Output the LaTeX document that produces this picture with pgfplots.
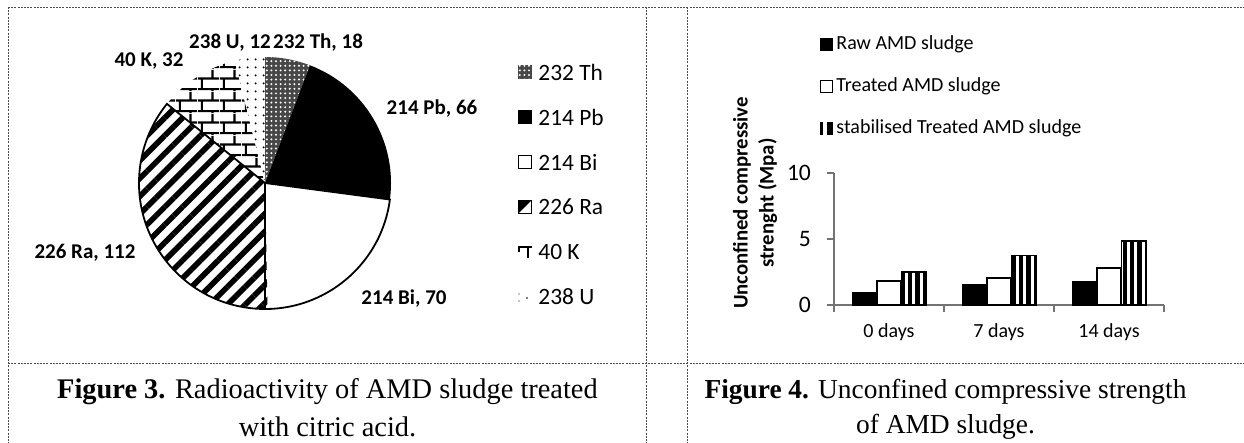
\documentclass[border=0pt]{standalone}
\usepackage{pgfplots}
\pgfplotsset{compat=1.18}
\usepackage{fontspec}
\setmainfont{Carlito}
\newfontfamily\timesf{Liberation Serif}
\usetikzlibrary{patterns.meta}

\pgfdeclarepattern{
  name=mybricks, type=uncolored,
  bottom left={\pgfpoint{0pt}{0pt}}, top right={\pgfpoint{11pt}{11pt}},
  tile size={\pgfpoint{11pt}{11pt}},
  code={
    \pgfsetlinewidth{1.1pt}
    \pgfpathmoveto{\pgfpoint{0pt}{1pt}}\pgfpathlineto{\pgfpoint{11pt}{1pt}}
    \pgfpathmoveto{\pgfpoint{0pt}{6.5pt}}\pgfpathlineto{\pgfpoint{11pt}{6.5pt}}
    \pgfpathmoveto{\pgfpoint{2pt}{1pt}}\pgfpathlineto{\pgfpoint{2pt}{6.5pt}}
    \pgfpathmoveto{\pgfpoint{7.5pt}{6.5pt}}\pgfpathlineto{\pgfpoint{7.5pt}{11pt}}
    \pgfpathmoveto{\pgfpoint{7.5pt}{0pt}}\pgfpathlineto{\pgfpoint{7.5pt}{1pt}}
    \pgfusepath{stroke}
  }
}

\tikzset{
  thA/.style={fill=black!72},
  thB/.style={pattern={Dots[distance=2.3pt, radius=0.55pt]}, pattern color=white},
  pbS/.style={fill=black},
  raS/.style={pattern={Lines[angle=45, distance=6.3pt, line width=2.8pt]}, pattern color=black},
  kS/.style={pattern=mybricks, pattern color=black},
  uS/.style={pattern={Dots[distance=4pt, radius=0.6pt]}, pattern color=black},
  stripeS/.style={pattern={Lines[angle=90, distance=3.7pt, line width=2.2pt]}, pattern color=black},
  bord/.style={draw=black!70, line width=0.45pt, dash pattern=on 1pt off 0.6pt},
}

% slice: cumulative value before, value, style ; total = 310
\newcommand\pieslice[3]{%
  \fill[#3] (axis cs:0,0) -- (axis cs:{cos(90-#1/310*360)},{sin(90-#1/310*360)})
    arc[start angle={90-#1/310*360}, delta angle={-#2/310*360}, radius=63pt] -- cycle;}

\begin{document}
\begin{tikzpicture}
\useasboundingbox (0,0) rectangle (622pt,221.5pt);

% ---------- Pie chart (Figure 3) ----------
\begin{axis}[hide axis, x=63pt, y=63pt, xmin=-1.1, xmax=1.1, ymin=-1.1, ymax=1.1,
  anchor=origin, at={(132.5pt,130pt)}, clip=false]
  \pieslice{0}{18}{thA}
  \pieslice{0}{18}{thB}
  \pieslice{18}{66}{pbS}
  \pieslice{84}{70}{fill=white}
  \pieslice{154}{112}{fill=white}
  \pieslice{154}{112}{raS}
  \pieslice{266}{32}{fill=white}
  \pieslice{266}{32}{kS}
  \pieslice{298}{12}{fill=white}
  \pieslice{298}{12}{uS}
  % outlines
  \draw[black, line width=0.9pt] (axis cs:0,0) -- (axis cs:{cos(90-84/310*360)},{sin(90-84/310*360)})
     arc[start angle={90-84/310*360}, delta angle={-182/310*360}, radius=63pt] -- cycle;
  \draw[black, line width=0.7pt] (axis cs:0,0) -- (axis cs:0,-1);
\end{axis}

% ---------- Bar chart (Figure 4) ----------
\begin{axis}[anchor=south west, at={(417pt,69pt)}, x=55pt, y=6.6pt,
  xmin=0.5, xmax=3.5, ymin=0, ymax=10,
  axis lines*=left, axis line style={draw=black!55, line width=0.6pt},
  ybar=0pt, bar width=12.3pt,
  ytick={0,5,10}, tick align=outside, major tick length=3.5pt,
  tick style={draw=black!55, line width=0.6pt},
  /pgf/number format/assume math mode=true,
  yticklabel style={font=\fontsize{11.8}{13}\selectfont, xshift=-4.5pt},
  xtick={0.5,1.5,2.5,3.5}, xticklabels={}, 
  extra x ticks={1,2,3}, extra x tick labels={0 days,7 days,14 days},
  extra x tick style={major tick length=0pt, xticklabel style={font=\fontsize{10}{12}\selectfont, yshift=-6pt}},
  clip=false]
  \addplot[fill=black, draw=black, line width=0.6pt] coordinates {(1,0.92) (2,1.55) (3,1.8)};
  \addplot[fill=white, draw=black, line width=0.9pt] coordinates {(1,1.8) (2,2.05) (3,2.8)};
  \addplot[stripeS, draw=black, line width=0.6pt] coordinates {(1,2.5) (2,3.75) (3,4.85)};
\end{axis}

% ---------- Overlay in pixel coordinates ----------
\begin{scope}[x=0.5pt, y=-0.5pt, yshift=221.5pt]
  % table borders
  \draw[bord] (8,7) -- (1244,7);
  \draw[bord] (8,7) -- (8,443);
  \draw[bord] (646,7) -- (646,443);
  \draw[bord] (687,7) -- (687,443);
  \draw[bord] (8,363) -- (1244,363);

  % pie labels
  \begin{scope}[every node/.style={font=\bfseries\fontsize{10.5}{12}\selectfont, inner sep=0pt}]
    \node at (230,43) {238 U, 12};
    \node at (318,43) {232 Th, 18};
    \node at (149,61) {40 K, 32};
    \node at (432,109) {214 Pb, 66};
    \node at (404,299) {214 Bi, 70};
    \node at (85,253) {226 Ra, 112};
  \end{scope}

  % pie legend
  \begin{scope}[every node/.style={font=\fontsize{11.7}{13}\selectfont, inner sep=0pt, anchor=west}]
    \fill[thA] (518,65) rectangle (532,79);
    \fill[thB] (518,65) rectangle (532,79);
    \node at (538,72) {232 Th};
    \fill[black] (518,110) rectangle (532,124);
    \node at (538,117) {214 Pb};
    \draw[black, line width=0.8pt, fill=white] (518.5,155.5) rectangle (531.5,168.5);
    \node at (538,162) {214 Bi};
    \draw[black, line width=0.8pt, fill=white] (518.5,200.5) rectangle (531.5,213.5);
    \fill[black] (518.5,213.5) -- (518.5,200.5) -- (531.5,200.5) -- cycle;
    \node at (538,207) {226 Ra};
    \draw[black, line width=1.2pt] (518,247) -- (532,247);
    \draw[black, line width=1.2pt] (528,247) -- (528,258);
    \draw[black, line width=1.2pt] (519,247) -- (519,252);
    \node at (538,252) {40 K};
    \fill[black] (519,294) circle (0.7);
    \fill[black] (527,298) circle (0.9);
    \fill[black] (519,301) circle (0.7);
    \node at (538,297) {238 U};
  \end{scope}

  % bar legend
  \begin{scope}[every node/.style={font=\fontsize{10}{12}\selectfont, inner sep=0pt, anchor=west}]
    \fill[black] (820,38) rectangle (833,51);
    \node at (836,44) {Raw AMD sludge};
    \draw[black, line width=0.8pt, fill=white] (820.5,80.5) rectangle (832.5,92.5);
    \node at (836,86) {Treated AMD sludge};
    \fill[black] (820,122) rectangle (823,135);
    \fill[black] (827,122) rectangle (833,135);
    \node at (836,128) {stabilised Treated AMD sludge};
  \end{scope}

  % y-axis label
  \node[rotate=90, align=center, font=\bfseries\fontsize{10.4}{13}\selectfont, inner sep=0pt] at (755,203)
    {Unconfined compressive\\strenght (Mpa)};

  % captions
  \begin{scope}[every node/.style={font=\timesf\fontsize{14.2}{16}\selectfont, inner sep=0pt}]
    \node at (327.5,392) {\textbf{Figure 3.} Radioactivity of AMD sludge treated};
    \node at (327.5,427) {with citric acid.};
  \end{scope}
  \begin{scope}[every node/.style={font=\timesf\fontsize{13.7}{16}\selectfont, inner sep=0pt}]
    \node at (945.5,392) {\textbf{Figure 4.} Unconfined compressive strength};
    \node at (945.5,427) {of AMD sludge.};
  \end{scope}
\end{scope}
\end{tikzpicture}
\end{document}
